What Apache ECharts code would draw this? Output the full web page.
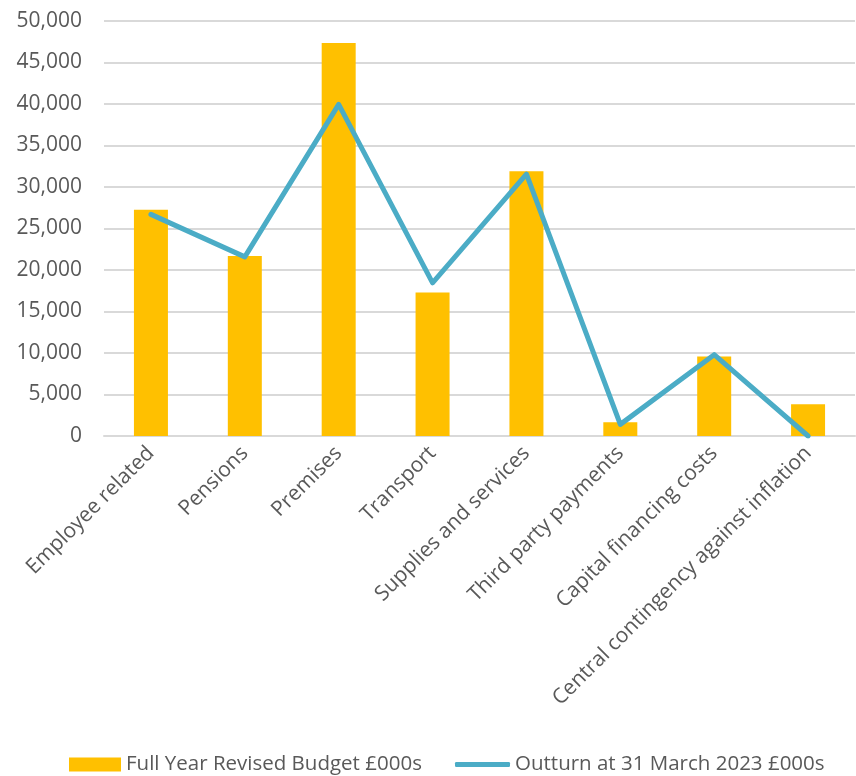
<!DOCTYPE html>
<html>
<head>
<meta charset="utf-8">
<script src="https://cdn.jsdelivr.net/npm/echarts@6/dist/echarts.min.js"></script>
<style>
	html, body { margin: 0; padding: 0; background: #fff; }
	#main { width: 856px; height: 776px; }
</style>
</head>
<body>
<div id="main"></div>
<script>
const categories = ['Employee related', 'Pensions', 'Premises', 'Transport', 'Supplies and services', 'Third party payments', 'Capital financing costs', 'Central contingency against inflation'];
const budget = [27250, 21700, 47350, 17300, 31900, 1650, 9570, 3820];
const outturn = [26700, 21580, 39950, 18450, 31550, 1400, 9800, 0];
const yTicks = { min: 0, max: 50000, interval: 5000 };

let myChart = echarts.init(document.getElementById('main'));
let textColor = '#595959';
let legendText = { color: textColor, fontSize: 20.5, fontFamily: 'Open Sans' };
let option = {
	backgroundColor: '#fff',
	textStyle: { fontFamily: 'Open Sans' },
	grid: {
		left: 104,
		right: 1,
		top: 21,
		bottom: 340
	},
	// two legends so the line key can be thinner than the bar key
	legend: [{
		top: 749,
		left: 64,
		itemWidth: 52,
		itemHeight: 14,
		textStyle: legendText,
		data: [{ name: 'Full Year Revised Budget £000s', icon: 'rect' }]
	}, {
		top: 749,
		left: 450,
		itemWidth: 55,
		itemHeight: 5,
		textStyle: legendText,
		data: [{ name: 'Outturn at 31 March 2023 £000s', icon: 'roundRect' }]
	}],
	xAxis: {
		type: 'category',
		data: categories,
		axisLine: { show: true, lineStyle: { color: '#d9d9d9', width: 2 } },
		axisTick: { show: false },
		axisLabel: {
			interval: 0,
			rotate: 45,
			margin: 14,
			color: textColor,
			fontSize: 21,
			fontFamily: 'Open Sans'
		}
	},
	yAxis: {
		type: 'value',
		min: yTicks.min,
		max: yTicks.max,
		interval: yTicks.interval,
		axisLine: { show: false },
		axisTick: { show: false },
		splitLine: { lineStyle: { color: '#d9d9d9', width: 2 } },
		axisLabel: {
			margin: 22,
			color: textColor,
			fontSize: 21,
			fontFamily: 'Open Sans',
			formatter: function (v) { return v.toLocaleString('en-GB'); }
		}
	},
	series: [{
		name: 'Full Year Revised Budget £000s',
		type: 'bar',
		barWidth: 34,
		data: budget,
		itemStyle: { color: '#ffc000' }
	}, {
		name: 'Outturn at 31 March 2023 £000s',
		type: 'line',
		data: outturn,
		symbol: 'none',
		lineStyle: { color: '#4bacc6', width: 5, cap: 'round', join: 'round' },
		itemStyle: { color: '#4bacc6' }
	}]
};
myChart.setOption(option);
</script>
</body>
</html>
